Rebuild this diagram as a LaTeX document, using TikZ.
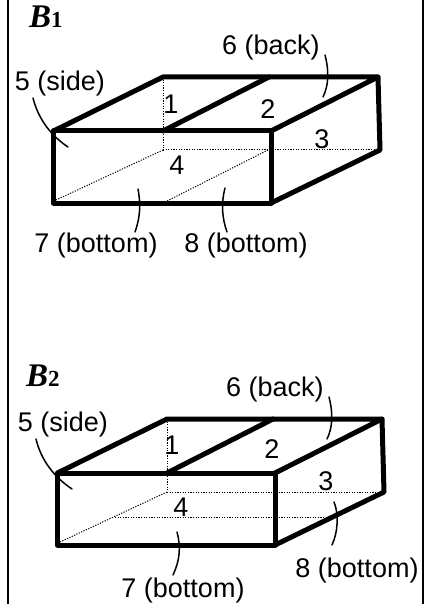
\documentclass[tikz,border=0pt]{standalone}
\usepackage{fontspec}
\setmainfont{Liberation Sans}
\newfontfamily\titlefont{Liberation Serif}
\tikzset{
  frameln/.style={line width=2pt},
  edgeln/.style={line width=5pt, line cap=round, line join=round},
  hiddenln/.style={line width=1pt, dash pattern=on 1.2pt off 1.4pt},
  leader/.style={line width=1.5pt, line cap=round},
  facelab/.style={font=\fontsize{27}{27}\selectfont, inner sep=0pt},
  titlelab/.style={font=\titlefont\bfseries\itshape\fontsize{33}{33}\selectfont, inner sep=0pt},
}
% wire box, origin at the top-left of the picture, y pointing down
\newcommand{\slabedges}{%
  % hidden edges
  \draw[hiddenln] (163,77) -- (163,150);
  \draw[hiddenln] (163,150) -- (379,150);
  \draw[hiddenln] (163,150) -- (56,200);
  % visible edges
  \draw[edgeln] (53.5,131) -- (271,131) -- (271,203) -- (53.5,203) -- cycle;
  \draw[edgeln] (53.5,131) -- (163,77) -- (378,77) -- (271,131);
  \draw[edgeln] (163,131) -- (269,77);
  \draw[edgeln] (378,77) -- (380,150) -- (271,203);
}
\begin{document}
\begin{tikzpicture}[x=1pt, y=-1pt]
  \useasboundingbox (0,0) rectangle (430,604);
  % page frame
  \draw[frameln] (8,-2) -- (8,606);
  \draw[frameln] (423,-2) -- (423,606);

  % upper box
  \slabedges
  \draw[hiddenln] (268,150) -- (167,201);
  \node[titlelab, anchor=base west] (titleA) at (29,28) {B\textup{\fontsize{23}{23}\selectfont 1}};
  \node[facelab] (sideA) at (60,84) {5 (side)};
  \node[facelab] (backA) at (271,48) {6 (back)};
  \node[facelab] (oneA) at (171,104) {1};
  \node[facelab] (twoA) at (268,109) {2};
  \node[facelab] (threeA) at (322,139) {3};
  \node[facelab] (fourA) at (177,165) {4};
  \node[facelab] (botA) at (96,246) {7 (bottom)};
  \node[facelab] (botB) at (246,246) {8 (bottom)};
  \draw[leader] (33,98) .. controls (38,118) and (50,135) .. (68,147);
  \draw[leader] (325,55) .. controls (329,70) and (329,85) .. (323,97);
  \draw[leader] (138,189) .. controls (141,205) and (140,218) .. (135,232);
  \draw[leader] (225,188) .. controls (221,203) and (222,218) .. (227,232);

  % lower box
  \begin{scope}[shift={(4,342)}]
    \slabedges
    \draw[hiddenln] (111,175) -- (331,175);
    \draw[leader] (32,97) .. controls (37,118) and (50,135) .. (68,147);
    \draw[leader] (325,55) .. controls (329,70) and (329,85) .. (323,97);
    \draw[leader] (173,190) .. controls (177,205) and (176,218) .. (169,233);
    \draw[leader] (330,160) .. controls (335,172) and (334,190) .. (328,203);
  \end{scope}
  \node[titlelab, anchor=base west] (titleC) at (26,386) {B\textup{\fontsize{23}{23}\selectfont 2}};
  \node[facelab] (sideC) at (63,425) {5 (side)};
  \node[facelab] (backC) at (275,390) {6 (back)};
  \node[facelab] (oneC) at (172,445) {1};
  \node[facelab] (twoC) at (272,449) {2};
  \node[facelab] (threeC) at (326,481) {3};
  \node[facelab] (fourC) at (181,507) {4};
  \node[facelab] (botC) at (183,591) {7 (bottom)};
  \node[facelab] (botD) at (357,571) {8 (bottom)};
\end{tikzpicture}
\end{document}
